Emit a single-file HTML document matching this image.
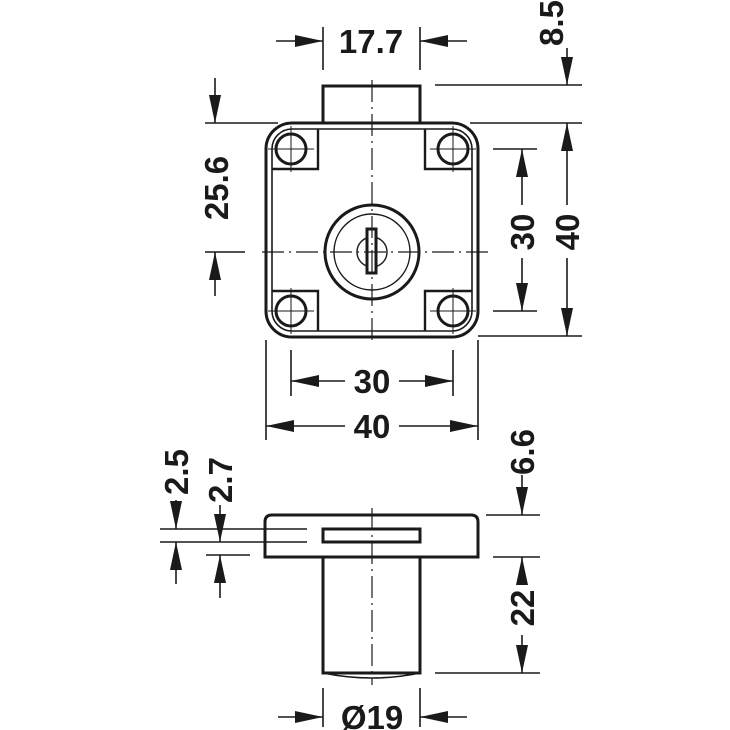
<!DOCTYPE html>
<html><head><meta charset="utf-8"><style>html,body{margin:0;padding:0;background:#fff}svg{display:block}</style></head><body>
<svg width="730" height="730" viewBox="0 0 730 730" xmlns="http://www.w3.org/2000/svg">
<defs>
<marker id="a" markerWidth="28" markerHeight="12" refX="28" refY="6" orient="auto" markerUnits="userSpaceOnUse"><path d="M0,0 L28,6 L0,12 Z" fill="#1a1a1a"/></marker>
</defs>
<g fill="none" stroke="#1a1a1a" stroke-width="3">
<rect x="266" y="123" width="212" height="214" rx="26"/>
<rect x="272" y="129" width="200" height="202" rx="20" stroke-width="1.6"/>
<path d="M323,123 V86 H420 V123"/>
<path d="M272,169 H318 V129 M472,169 H425 V129 M272,291 H318 V331 M472,291 H425 V331" stroke-width="2.4"/>
<circle cx="291" cy="149" r="15"/><circle cx="453" cy="149" r="15"/>
<circle cx="291" cy="311" r="15"/><circle cx="453" cy="311" r="15"/>
<circle cx="372" cy="252" r="47"/>
<circle cx="372" cy="252" r="38" stroke-width="1.4"/>
<circle cx="372" cy="252" r="15" stroke-width="1.4"/>
<rect x="367" y="229" width="9" height="44" fill="#fff"/>
<path d="M265,557 V522 Q265,515 272,515 H471 Q478,515 478,522 V557 Z"/>
<rect x="323" y="529" width="97" height="13"/>
<path d="M323,557 V673 H420 V557"/>
<path d="M323,673 Q372,683 420,673" stroke-width="1.6"/>
</g>
<g fill="none" stroke="#1a1a1a" stroke-width="1.2" stroke-dasharray="22,5,2,5">
<line x1="372" y1="80" x2="372" y2="342"/>
<line x1="262" y1="252" x2="488" y2="252"/>
<line x1="372" y1="508" x2="372" y2="685"/>
</g>
<g stroke="#1a1a1a" stroke-width="1" fill="none">
<path d="M268,149 H314 M430,149 H476 M268,311 H314 M430,311 H476 M291,126 V172 M453,126 V172 M291,288 V334 M453,288 V334"/>
</g>
<g stroke="#1a1a1a" stroke-width="1.6" fill="none">
<path d="M323,27 V70 M420,27 V70"/>
<path d="M435,85 H582 M470,123 H582 M478,336 H582 M493,149 H537 M493,311 H537"/>
<path d="M205,123 H278 M205,252 H245"/>
<path d="M291,350 V396 M453,350 V396 M266,340 V440 M478,340 V440"/>
<path d="M160,529 H307 M160,542 H307 M206,555 H250"/>
<path d="M486,515 H540 M493,557 H540 M435,673 H540"/>
<path d="M323,688 V727 M420,688 V727"/>
<line x1="276" y1="41" x2="323" y2="41" marker-end="url(#a)"/>
<line x1="467" y1="41" x2="420" y2="41" marker-end="url(#a)"/>
<line x1="567" y1="48" x2="567" y2="85" marker-end="url(#a)"/>
<line x1="567" y1="205" x2="567" y2="123" marker-end="url(#a)"/>
<line x1="567" y1="258" x2="567" y2="336" marker-end="url(#a)"/>
<line x1="522" y1="205" x2="522" y2="149" marker-end="url(#a)"/>
<line x1="522" y1="258" x2="522" y2="311" marker-end="url(#a)"/>
<line x1="215" y1="78" x2="215" y2="123" marker-end="url(#a)"/>
<line x1="215" y1="296" x2="215" y2="252" marker-end="url(#a)"/>
<line x1="345" y1="381" x2="291" y2="381" marker-end="url(#a)"/>
<line x1="399" y1="381" x2="453" y2="381" marker-end="url(#a)"/>
<line x1="345" y1="426" x2="266" y2="426" marker-end="url(#a)"/>
<line x1="399" y1="426" x2="478" y2="426" marker-end="url(#a)"/>
<line x1="176" y1="500" x2="176" y2="529" marker-end="url(#a)"/>
<line x1="176" y1="584" x2="176" y2="542" marker-end="url(#a)"/>
<line x1="220" y1="505" x2="220" y2="542" marker-end="url(#a)"/>
<line x1="220" y1="598" x2="220" y2="555" marker-end="url(#a)"/>
<line x1="522" y1="475" x2="522" y2="515" marker-end="url(#a)"/>
<line x1="522" y1="582" x2="522" y2="557" marker-end="url(#a)"/>
<line x1="522" y1="635" x2="522" y2="673" marker-end="url(#a)"/>
<line x1="278" y1="717" x2="323" y2="717" marker-end="url(#a)"/>
<line x1="467" y1="717" x2="420" y2="717" marker-end="url(#a)"/>
</g>
<g font-family="Liberation Sans, sans-serif" font-weight="bold" font-size="33" fill="#1a1a1a" text-anchor="middle">
<text x="371" y="53">17.7</text>
<text x="372" y="393">30</text>
<text x="372" y="438">40</text>
<text x="372" y="729">Ø19</text>
<text transform="translate(563,23) rotate(-90)">8.5</text>
<text transform="translate(228,188) rotate(-90)">25.6</text>
<text transform="translate(534,232) rotate(-90)">30</text>
<text transform="translate(579,232) rotate(-90)">40</text>
<text transform="translate(188,472) rotate(-90)">2.5</text>
<text transform="translate(232,480) rotate(-90)">2.7</text>
<text transform="translate(534,452) rotate(-90)">6.6</text>
<text transform="translate(534,608) rotate(-90)">22</text>
</g>
</svg>
</body></html>
